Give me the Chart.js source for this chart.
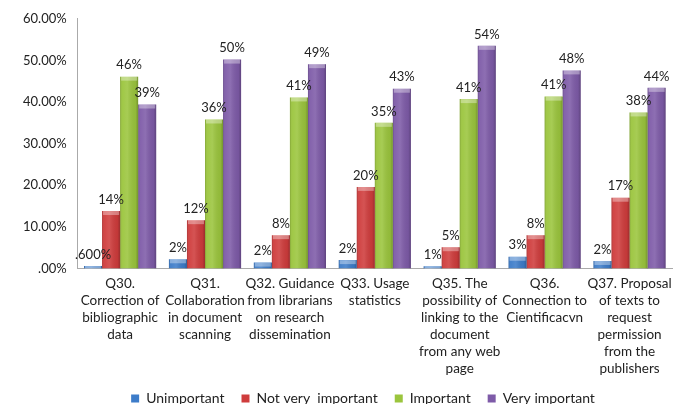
<!DOCTYPE html>
<html>
<head>
<meta charset="utf-8">
<script src="https://cdn.jsdelivr.net/npm/chart.js@4/dist/chart.umd.min.js"></script>
<style>
  html, body { margin: 0; padding: 0; background: #fff; }
  #wrap { width: 682px; height: 404px; }
</style>
</head>
<body>
<div id="wrap"><canvas id="chart" width="682" height="404"></canvas></div>
<script>
const categories = [
    ['Q30.', 'Correction of', 'bibliographic', 'data'],
    ['Q31.', 'Collaboration', 'in document', 'scanning'],
    ['Q32. Guidance', 'from librarians', 'on research', 'dissemination'],
    ['Q33. Usage', 'statistics'],
    ['Q35. The', 'possibility of', 'linking to the', 'document', 'from any web', 'page'],
    ['Q36.', 'Connection to', 'Cientificacvn'],
    ['Q37. Proposal', 'of texts to', 'request', 'permission', 'from the', 'publishers']
];
const unimportant = [0.6, 2.2, 1.4, 2.0, 0.5, 2.8, 1.8];
const notVeryImportant = [13.8, 11.6, 8.0, 19.6, 5.1, 8.0, 17.0];
const important = [46.1, 35.8, 41.1, 35.0, 40.7, 41.3, 37.5];
const veryImportant = [39.4, 50.2, 49.1, 43.2, 53.5, 47.6, 43.4];
const unimportantLabels = ['.600%', '2%', '2%', '2%', '1%', '3%', '2%'];
const notVeryLabels = ['14%', '12%', '8%', '20%', '5%', '8%', '17%'];
const importantLabels = ['46%', '36%', '41%', '35%', '41%', '41%', '38%'];
const veryLabels = ['39%', '50%', '49%', '43%', '54%', '48%', '44%'];
const yTicks = [0, 10, 20, 30, 40, 50, 60];

const FONT = 'Lato, "Open Sans", sans-serif';

// value labels above each bar
const barLabels = {
    id: 'barLabels',
    afterDatasetsDraw(chart) {
        const ctx = chart.ctx;
        ctx.save();
        ctx.font = '13px ' + FONT;
        ctx.fillStyle = '#222';
        ctx.textAlign = 'center';
        ctx.textBaseline = 'bottom';
        chart.data.datasets.forEach((ds, i) => {
            chart.getDatasetMeta(i).data.forEach((bar, j) => {
                ctx.fillText(ds.valueLabels[j], bar.x, bar.y - 5);
            });
        });
        ctx.restore();
    }
};

// soft shading on each bar for the glossy look
const barShade = {
    id: 'barShade',
    afterDatasetsDraw(chart) {
        const ctx = chart.ctx;
        ctx.save();
        chart.data.datasets.forEach((ds, i) => {
            chart.getDatasetMeta(i).data.forEach(bar => {
                const left = bar.x - bar.width / 2;
                const h = bar.base - bar.y;
                const g = ctx.createLinearGradient(left, 0, left + bar.width, 0);
                g.addColorStop(0, 'rgba(0,0,0,0.18)');
                g.addColorStop(0.12, 'rgba(255,255,255,0.05)');
                g.addColorStop(0.4, 'rgba(255,255,255,0.12)');
                g.addColorStop(0.85, 'rgba(0,0,0,0.06)');
                g.addColorStop(1, 'rgba(0,0,0,0.25)');
                ctx.fillStyle = g;
                ctx.fillRect(left, bar.y, bar.width, h);
                const cap = Math.min(4, h);
                ctx.fillStyle = 'rgba(255,255,255,0.35)';
                ctx.fillRect(left + 1, bar.y, bar.width - 2, cap);
            });
        });
        ctx.restore();
    }
};

// legend sits a little right of centre and tight under the labels in the original
const legendNudge = {
    id: 'legendNudge',
    afterLayout(chart) {
        chart.legend.left += 21;
        chart.legend.right += 21;
        chart.legend.top -= 10;
        chart.legend.bottom -= 10;
    }
};

new Chart(document.getElementById('chart'), {
    type: 'bar',
    data: {
        labels: categories,
        datasets: [
            { label: 'Unimportant', data: unimportant, valueLabels: unimportantLabels, backgroundColor: '#3D7CC9' },
            { label: 'Not very  important', data: notVeryImportant, valueLabels: notVeryLabels, backgroundColor: '#CF3C3C' },
            { label: 'Important', data: important, valueLabels: importantLabels, backgroundColor: '#9BC53D' },
            { label: 'Very important', data: veryImportant, valueLabels: veryLabels, backgroundColor: '#7E5BA8' }
        ]
    },
    options: {
        responsive: false,
        animation: false,
        layout: { padding: { top: 7, right: 10, left: 12, bottom: -21.5 } },
        datasets: {
            bar: { categoryPercentage: 0.85, barPercentage: 1.0, borderWidth: 0 }
        },
        scales: {
            x: {
                grid: { display: false, drawTicks: false },
                border: { display: true, color: '#aaa', width: 1 },
                ticks: {
                    color: '#222',
                    font: { family: FONT, size: 13.5, lineHeight: 1.26 },
                    maxRotation: 0,
                    autoSkip: false,
                    padding: 7
                }
            },
            y: {
                min: 0,
                max: 60,
                afterBuildTicks(axis) { axis.ticks = yTicks.map(v => ({ value: v })); },
                grid: { display: false, drawTicks: false },
                border: { display: true, color: '#aaa', width: 1 },
                ticks: {
                    color: '#222',
                    font: { family: FONT, size: 13 },
                    padding: 11,
                    callback: v => v === 0 ? '.00%' : v.toFixed(2) + '%'
                }
            }
        },
        plugins: {
            legend: {
                position: 'bottom',
                labels: {
                    color: '#222',
                    font: { family: FONT, size: 14 },
                    boxWidth: 8,
                    boxHeight: 8,
                    padding: 17
                }
            },
            tooltip: { enabled: false }
        }
    },
    plugins: [barShade, barLabels, legendNudge]
});
</script>
</body>
</html>
